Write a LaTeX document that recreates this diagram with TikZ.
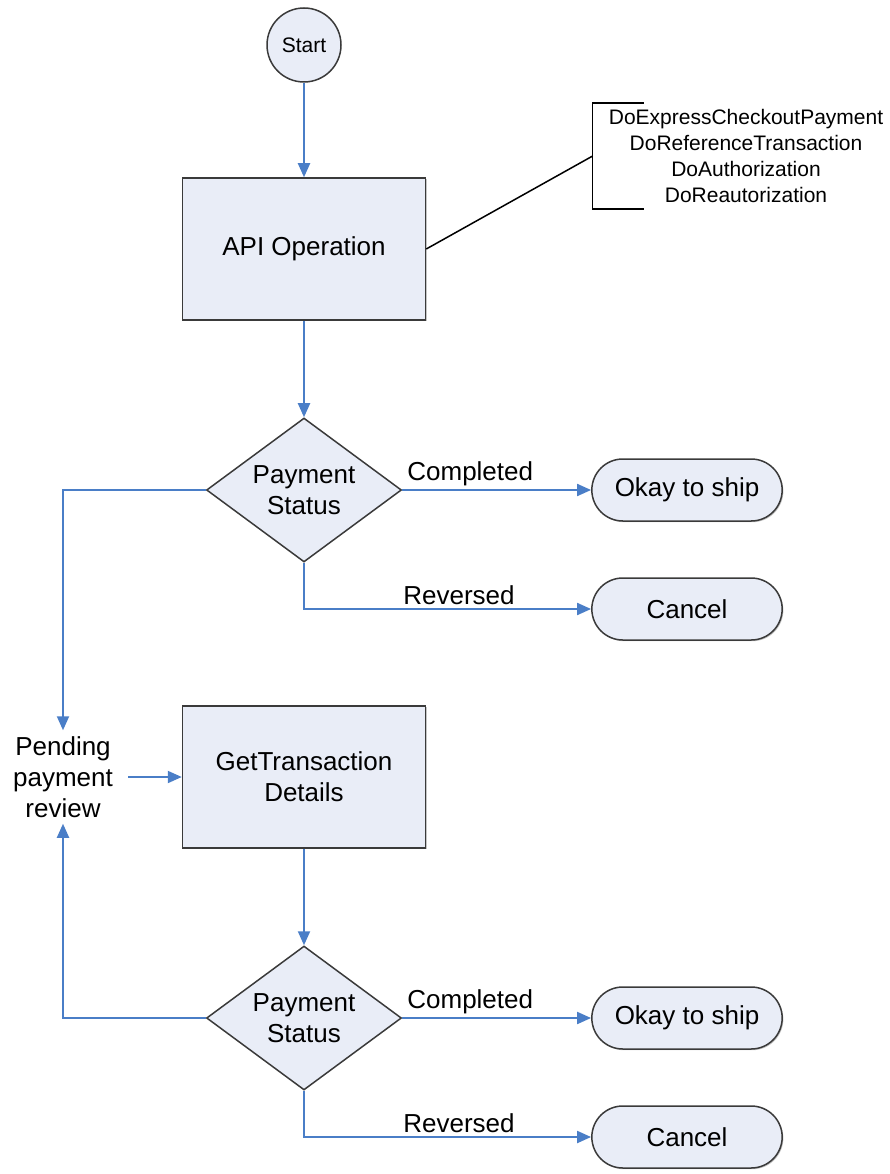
\documentclass[tikz,border=0pt]{standalone}
\usepackage{fontspec}
\setmainfont{Liberation Sans}
\usepackage{tikz}
\usetikzlibrary{shapes.geometric, shapes.misc, arrows.meta, shadows}
\definecolor{flowfill}{HTML}{E9EDF7}
\definecolor{flowline}{HTML}{4A7EC7}
\definecolor{flowdraw}{HTML}{3A3A3A}
\tikzstyle{startnode} =
[circle, minimum size = 74pt, inner sep = 0pt, text centered,
draw=flowdraw, line width = 1.5pt, fill=flowfill, font=\fontsize{21}{25}\selectfont]
\tikzstyle{operation} =
[rectangle, minimum width = 243pt, minimum height = 142pt, align=center,
draw=flowdraw, line width = 1.5pt, fill=flowfill, font=\fontsize{26}{31}\selectfont,
drop shadow={shadow xshift=1.2pt, shadow yshift=-1.2pt, fill=black!45}]
\tikzstyle{decision} =
[diamond, aspect = 1.35, minimum width = 195pt, minimum height = 144pt,
inner sep = 0pt, align=center, draw=flowdraw, line width = 1.5pt,
fill=flowfill, font=\fontsize{26}{31}\selectfont]
\tikzstyle{outcome} =
[rounded rectangle, minimum width = 197pt, minimum height = 62pt, text centered,
draw=flowdraw, line width = 1.5pt, fill=flowfill, font=\fontsize{26}{31}\selectfont,
drop shadow={shadow xshift=1.2pt, shadow yshift=-1.2pt, fill=black!45}]
\tikzstyle{methodlist} =
[rectangle, align=center, inner xsep = 16pt, inner ysep = 6pt,
font=\fontsize{21}{26}\selectfont]
\tikzstyle{waitlabel} =
[rectangle, align=center, inner xsep = 15pt, inner ysep = 6pt,
font=\fontsize{26}{31}\selectfont]
\tikzstyle{edgelabel} = [above, inner sep = 3pt, font=\fontsize{26}{31}\selectfont]
\tikzstyle{line} = [draw=flowline, line width = 2pt, -{Triangle[length=14pt, width=12pt]}]
\tikzstyle{plain} = [draw=black, line width = 1.5pt]

\begin{document}
\begin{tikzpicture}[node distance = 241pt, auto]
  \useasboundingbox (0pt,0pt) rectangle (890pt,-1174pt);
  % upper part
  \node [startnode] at (304pt,-45pt) (start) {Start};
  \node [operation, below of=start, node distance=204pt] (apiop) {API Operation};
  \node [decision, below of=apiop] (status) {Payment\\Status};
  \node [outcome, right of=status, node distance=383pt] (ship) {Okay to ship};
  \node [outcome, below of=ship, node distance=119pt] (cancel) {Cancel};
  \node [methodlist] at (746pt,-156pt) (methods)
   {DoExpressCheckoutPayment\\DoReferenceTransaction\\DoAuthorization\\DoReautorization};
  % upper edges
  \path [line] (start) -- (apiop);
  \path [line] (apiop) -- (status);
  \path [line] (status) -- node [edgelabel, pos=0.36] {Completed} (ship);
  \path [line] (status) |- node [edgelabel, pos=0.77] {Reversed} (cancel);
  \draw [plain] (apiop.east) -- (methods.west);
  \draw [plain] ([xshift=51pt]methods.north west) -- (methods.north west)
   -- (methods.south west) -- ([xshift=51pt]methods.south west);
  %
  % lower part
  \node [operation, below of=status, node distance=287pt] (gettx)
   {GetTransaction\\Details};
  \node [waitlabel, left of=gettx] (pending) {Pending\\payment\\review};
  \node [decision, below of=gettx] (recheck) {Payment\\Status};
  \node [outcome, right of=recheck, node distance=383pt] (shipagain) {Okay to ship};
  \node [outcome, below of=shipagain, node distance=119pt] (cancelagain) {Cancel};
  % lower edges
  \path [line] (status) -| (pending);
  \path [line] (pending) -- (gettx);
  \path [line] (gettx) -- (recheck);
  \path [line] (recheck) -| (pending);
  \path [line] (recheck) -- node [edgelabel, pos=0.36] {Completed} (shipagain);
  \path [line] (recheck) |- node [edgelabel, pos=0.77] {Reversed} (cancelagain); %|
\end{tikzpicture}
\end{document}
